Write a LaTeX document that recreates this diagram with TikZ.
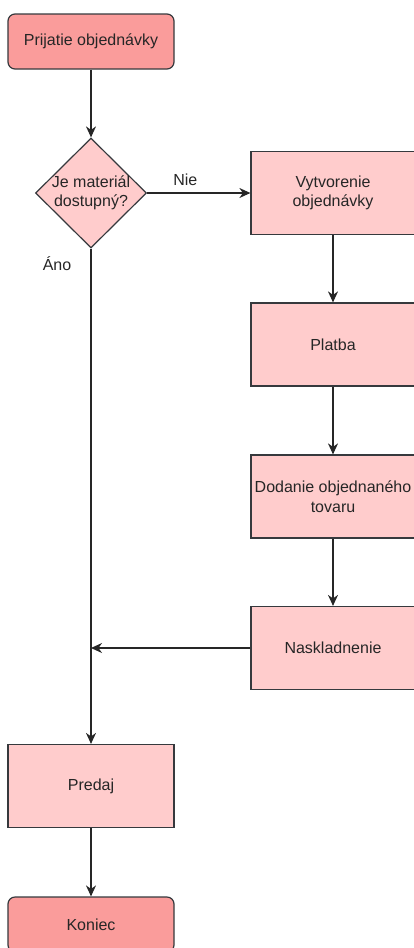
\documentclass[tikz,border=0pt]{standalone}
\usepackage{fontspec}
\setmainfont{Liberation Sans}
\usetikzlibrary{shapes.geometric,arrows.meta,positioning}
\definecolor{edgegray}{HTML}{36393D}
\definecolor{termred}{HTML}{FA9C9B}
\definecolor{procpink}{HTML}{FFCCCC}

\begin{document}
\begin{tikzpicture}[x=1pt,y=-1pt,
  every node/.style={font=\fontsize{16}{19.5}\selectfont, text=black!85},
  terminal/.style={draw=edgegray, fill=termred, rounded corners=7pt, minimum width=166pt, minimum height=55pt, line width=1.2pt},
  process/.style={draw=edgegray, fill=procpink, minimum width=164pt, minimum height=83pt, align=center, inner sep=1pt, line width=1.2pt},
  decision/.style={diamond, draw=edgegray, fill=procpink, minimum width=111pt, minimum height=110pt, inner sep=0pt, line width=1.2pt},
  flow/.style={-{Stealth[length=11pt,width=10pt,inset=3.5pt]}, line width=1.2pt, draw=black!85}]
\useasboundingbox (0,0) rectangle (414,948);

\coordinate (S) at (91,41.5);
\coordinate (D) at (91,193);
\coordinate (V) at (333,193);
\coordinate (P) at (333,344.5);
\coordinate (T) at (333,496.5);
\coordinate (N) at (333,648);
\coordinate (R) at (91,786);
\coordinate (K) at (91,924.5);
\coordinate (join) at (91,648);

\node[terminal] (start) at (S) {Prijatie objednávky};
\node[decision] (dec) at (D) {};
\node[align=center, inner sep=0pt] (dectext) at (D) {Je materiál\\dostupný?};
\node[process] (vytv) at (V) {Vytvorenie\\objednávky};
\node[process] (platba) at (P) {Platba};
\node[process] (dodanie) at (T) {Dodanie objednaného\\tovaru};
\node[process] (nask) at (N) {Naskladnenie};
\node[process, minimum width=166pt] (predaj) at (R) {Predaj};
\node[terminal] (koniec) at (K) {Koniec};

\draw[flow] (start) -- (dec);
\draw[flow] (dec) -- node[above=3pt, pos=0.37] (nie) {Nie} (vytv);
\draw[flow] (vytv) -- (platba);
\draw[flow] (platba) -- (dodanie);
\draw[flow] (dodanie) -- (nask);
\draw[flow] (nask) -- (join);
\draw[flow] (dec) -- (predaj);
\draw[flow] (predaj) -- (koniec);
\node (ano) at (57,264) {Áno};
\end{tikzpicture}
\end{document}
